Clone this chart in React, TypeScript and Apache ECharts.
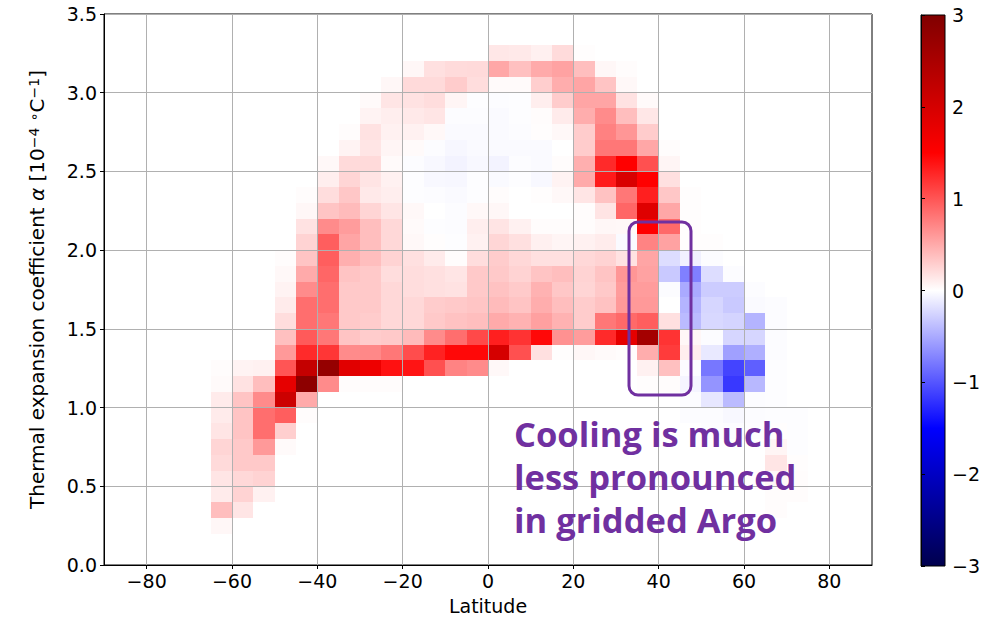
import React, { useEffect, useRef } from "react";
import * as echarts from "echarts";

// Bin sizes of the latitude / alpha histogram grid
const LAT_BIN = 5;
const ALPHA_BIN = 0.1;

// Centres of the 5° latitude bands that hold data
const latCenters = [
  -62.5, -57.5, -52.5, -47.5, -42.5, -37.5, -32.5, -27.5, -22.5, -17.5, -12.5, -7.5, -2.5,
  2.5, 7.5, 12.5, 17.5, 22.5, 27.5, 32.5, 37.5, 42.5, 47.5, 52.5, 57.5, 62.5, 67.5, 72.5,
];

// Index of the lowest alpha bin (alpha = index * 0.1) filled in each band
const firstAlphaBin = [2, 3, 4, 7, 9, 11, 11, 11, 11, 12, 12, 12, 12, 12, 13, 13, 13, 13, 13, 13, 11, 11, 9, 8, 8, 8, 3, 4];

// Temperature change per band, from the lowest filled alpha bin upwards
const lat65S = [0.05, 0.38, 0.12, 0.15, 0.22, 0.25, 0.15, 0.12, 0.12, 0.03, 0.02];
const lat60S = [0.15, 0.26, 0.23, 0.32, 0.32, 0.35, 0.35, 0.35, 0.17, 0.07];
const lat55S = [0.08, 0.26, 0.32, 0.6, 0.85, 0.85, 0.68, 0.38, 0.08];
const lat50S = [0.03, 0.28, 0.95, 2.1, 1.8, 1.0, 0.6, 0.37, 0.2, 0.12, 0.07, 0.04, 0.02];
const lat45S = [0.02, 0.5, 2.85, 2.2, 1.25, 0.97, 0.85, 0.85, 0.68, 0.5, 0.35, 0.26, 0.17, 0.05, 0.02];
const lat40S = [0.68, 2.75, 1.18, 0.8, 0.8, 0.85, 0.85, 0.9, 0.95, 0.95, 0.68, 0.35, 0.2, 0.1, 0.04];
const lat35S = [0.02, 1.85, 0.68, 0.35, 0.32, 0.32, 0.32, 0.35, 0.47, 0.53, 0.58, 0.4, 0.33, 0.25, 0.22, 0.07, 0.02];
const lat30S = [0.02, 1.7, 0.7, 0.3, 0.3, 0.32, 0.32, 0.32, 0.38, 0.38, 0.38, 0.25, 0.13, 0.16, 0.22, 0.15, 0.17, 0.07, 0.03];
const lat25S = [0.02, 1.4, 0.8, 0.32, 0.23, 0.23, 0.23, 0.2, 0.26, 0.23, 0.23, 0.15, 0.1, 0.08, 0.03, 0.06, 0.08, 0.1, 0.15, 0.05];
const lat20S = [1.38, 1.05, 0.4, 0.23, 0.23, 0.2, 0.2, 0.18, 0.04, 0.03, 0.04, -0.01, -0.01, -0.02, 0.03, 0.08, 0.13, 0.17, 0.22, 0.05];
const lat15S = [1.03, 1.3, 0.68, 0.32, 0.3, 0.18, 0.18, 0.12, 0.01, -0.01, 0.0, -0.02, -0.04, -0.04, -0.02, 0.04, 0.15, 0.2, 0.22, 0.18];
const lat10S = [0.73, 1.45, 0.85, 0.36, 0.32, 0.17, 0.15, 0.02, -0.01, -0.02, -0.02, -0.03, -0.05, -0.07, -0.05, -0.03, -0.02, 0.06, 0.3, 0.21];
const lat5S = [0.68, 1.45, 1.07, 0.38, 0.34, 0.32, 0.32, 0.2, 0.08, 0.1, 0.04, -0.01, -0.01, -0.04, -0.03, -0.03, -0.02, -0.01, 0.2, 0.22];
const lat0N = [0.04, 2.0, 1.32, 0.5, 0.4, 0.36, 0.32, 0.3, 0.24, 0.16, 0.05, 0.02, -0.03, -0.07, -0.03, -0.03, -0.03, -0.02, 0.03, 0.52, 0.14];
const lat5N = [1.03, 1.2, 0.45, 0.35, 0.31, 0.26, 0.23, 0.18, 0.08, 0.0, 0.0, -0.01, -0.02, -0.03, -0.02, -0.01, -0.01, 0.03, 0.37, 0.13];
const lat10N = [0.18, 1.45, 0.56, 0.48, 0.45, 0.35, 0.18, 0.09, 0.02, 0.0, 0.01, -0.04, -0.03, -0.03, 0.01, 0.02, 0.1, 0.29, 0.5, 0.09];
const lat15N = [0.01, 0.65, 0.45, 0.38, 0.33, 0.38, 0.18, 0.06, 0.02, 0.0, 0.04, 0.07, 0.02, 0.0, 0.04, 0.12, 0.3, 0.48, 0.55, 0.21];
const lat20N = [0.05, 0.58, 0.3, 0.3, 0.25, 0.26, 0.23, 0.08, 0.02, 0.02, 0.15, 0.5, 0.47, 0.3, 0.3, 0.48, 0.53, 0.53, 0.38, 0.01];
const lat25N = [0.03, 1.25, 0.8, 0.36, 0.32, 0.35, 0.26, 0.11, 0.05, 0.16, 0.36, 1.35, 1.25, 0.8, 0.74, 0.68, 0.53, 0.35, 0.05];
const lat30N = [0.02, 1.8, 0.88, 0.6, 0.58, 0.62, 0.17, -0.03, 0.04, 0.9, 0.8, 1.95, 1.5, 0.8, 0.62, 0.38, 0.17, 0.04, 0.02];
const lat35N = [0.01, 0.08, 0.48, 2.58, 0.95, 0.6, 0.58, 0.55, 0.53, 0.73, 1.5, 1.88, 1.32, 1.5, 1.03, 0.52, 0.3, 0.14, 0.03];
const lat40N = [0.02, 0.37, 1.15, 1.2, 0.18, 0.0, -0.02, -0.32, -0.2, 0.55, 0.88, 0.52, 0.33, 0.18, 0.06, 0.02];
const lat45N = [-0.02, -0.02, -0.06, -0.02, 0.1, 0.05, -0.4, -0.44, -0.5, -0.75, -0.08, 0.01, 0.01, 0.01, 0.01];
const lat50N = [-0.01, -0.02, -0.14, -0.63, -0.8, -0.13, -0.02, -0.23, -0.24, -0.3, -0.2, -0.02, 0.01];
const lat55N = [-0.02, -0.04, -0.4, -1.17, -1.1, -0.56, -0.24, -0.25, -0.32, -0.3, -0.02];
const lat60N = [-0.01, -0.02, -0.02, -0.42, -0.94, -0.47, -0.24, -0.44, -0.03, -0.02];
const lat65N = [0.02, 0.02, 0.04, 0.15, 0.06, 0.01, -0.01, -0.01, -0.01, -0.01, -0.02, -0.02, -0.02, -0.02];
const lat70N = [0.02, 0.02, 0.01, -0.01, -0.01, -0.01];

const bands = [
  lat65S, lat60S, lat55S, lat50S, lat45S, lat40S, lat35S, lat30S, lat25S, lat20S, lat15S, lat10S, lat5S,
  lat0N, lat5N, lat10N, lat15N, lat20N, lat25N, lat30N, lat35N, lat40N, lat45N, lat50N, lat55N, lat60N, lat65N, lat70N,
];

// Axis ticks
const latTicks = [-80, -60, -40, -20, 0, 20, 40, 60, 80];
const colorbarTicks = [-3, -2, -1, 0, 1, 2, 3];

// Diverging "seismic" colour scale, -3 .. 3
const seismic = ["#00004d", "#0000ff", "#ffffff", "#ff0000", "#800000"];

const cells: number[][] = [];
bands.forEach((vals, i) => {
  vals.forEach((v, j) => {
    const alphaCenter = +((firstAlphaBin[i] + j + 0.5) * ALPHA_BIN).toFixed(3);
    cells.push([latCenters[i], alphaCenter, v]);
  });
});

const minus = (v: number | string) => String(v).replace("-", "\u2212");
const FONT = "DejaVu Sans";
const FS = 19;
const NAME_FS = 20;
const PURPLE = "#7030a0";

export default function App() {
  const ref = useRef<HTMLDivElement>(null);

  useEffect(() => {
    if (!ref.current) return;
    const chart = echarts.init(ref.current, null, { renderer: "svg" });

    const renderItem = (_params: any, api: any) => {
      const lat = api.value(0);
      const a = api.value(1);
      const p0 = api.coord([lat - LAT_BIN / 2, a - ALPHA_BIN / 2]);
      const p1 = api.coord([lat + LAT_BIN / 2, a + ALPHA_BIN / 2]);
      const x0 = Math.round(p0[0]);
      const x1 = Math.round(p1[0]);
      const y0 = Math.round(p1[1]);
      const y1 = Math.round(p0[1]);
      return {
        type: "rect",
        shape: { x: x0, y: y0, width: x1 - x0, height: y1 - y0 },
        style: { fill: api.visual("color") },
      };
    };

    const tickLabel = { fontFamily: FONT, fontSize: FS, color: "#000" };
    const annot = { fill: PURPLE, fontFamily: "Open Sans", fontWeight: 700, fontSize: 34.5, verticalAlign: "middle" };

    chart.setOption({
      animation: false,
      backgroundColor: "#fff",
      textStyle: { fontFamily: FONT },
      grid: [
        { left: 104, top: 14, width: 768, height: 553, show: true, borderColor: "#000", borderWidth: 1, backgroundColor: "transparent" },
        { left: 921, top: 15, width: 24, height: 551 },
      ],
      xAxis: [
        {
          type: "value",
          gridIndex: 0,
          min: -90,
          max: 90,
          z: 10,
          name: "Latitude",
          nameLocation: "middle",
          nameGap: 31,
          nameTextStyle: { fontFamily: FONT, fontSize: FS, color: "#000" },
          axisLine: { show: true, onZero: false, lineStyle: { color: "#000", width: 1 } },
          axisTick: { show: true, customValues: latTicks, length: 4, lineStyle: { color: "#000" } },
          axisLabel: { ...tickLabel, customValues: latTicks, margin: 6, formatter: (v: number) => minus(v) },
          splitLine: { show: true, lineStyle: { color: "#b0b0b0", width: 1 } },
        },
        { type: "value", gridIndex: 1, min: 0, max: 1, show: false },
      ],
      yAxis: [
        {
          type: "value",
          gridIndex: 0,
          min: 0,
          max: 3.5,
          interval: 0.5,
          z: 10,
          name: "{t|Thermal expansion coefficient }{i|α}{t| [10}{s|\u22124}{t| }{s|\u2218}{t|C}{s|\u22121}{t|]}",
          nameLocation: "middle",
          nameGap: 57,
          nameRotate: 90,
          nameTextStyle: {
            fontFamily: FONT,
            fontSize: NAME_FS,
            color: "#000",
            rich: {
              t: { fontFamily: FONT, fontSize: NAME_FS, color: "#000" },
              i: { fontFamily: FONT, fontSize: NAME_FS, fontStyle: "italic", color: "#000" },
              s: { fontFamily: FONT, fontSize: 14, color: "#000", verticalAlign: "top" },
            },
          },
          axisLine: { show: true, onZero: false, lineStyle: { color: "#000", width: 1 } },
          axisTick: { show: true, length: 4, lineStyle: { color: "#000" } },
          axisLabel: { ...tickLabel, margin: 7, formatter: (v: number) => v.toFixed(1) },
          splitLine: { show: true, lineStyle: { color: "#b0b0b0", width: 1 } },
        },
        {
          type: "value",
          gridIndex: 1,
          position: "right",
          min: colorbarTicks[0],
          max: colorbarTicks[colorbarTicks.length - 1],
          interval: 1,
          z: 10,
          axisLine: { show: true, lineStyle: { color: "#000", width: 1 } },
          axisTick: { show: true, length: 4, lineStyle: { color: "#000" } },
          axisLabel: { ...tickLabel, margin: 7, formatter: (v: number) => minus(v) },
          splitLine: { show: false },
        },
      ],
      visualMap: {
        type: "continuous",
        show: false,
        min: -3,
        max: 3,
        dimension: 2,
        seriesIndex: 0,
        inRange: { color: seismic },
      },
      series: [
        {
          type: "custom",
          xAxisIndex: 0,
          yAxisIndex: 0,
          z: 2,
          clip: true,
          encode: { x: 0, y: 1 },
          data: cells,
          renderItem,
        },
      ],
      graphic: [
        {
          type: "rect",
          z: 1,
          shape: { x: 921, y: 15, width: 24, height: 551 },
          style: {
            fill: new echarts.graphic.LinearGradient(0, 0, 0, 1, [
              { offset: 0, color: seismic[4] },
              { offset: 0.25, color: seismic[3] },
              { offset: 0.5, color: seismic[2] },
              { offset: 0.75, color: seismic[1] },
              { offset: 1, color: seismic[0] },
            ]),
            stroke: "#000",
            lineWidth: 1,
          },
        },
        {
          type: "rect",
          z: 20,
          shape: { x: 629, y: 222, width: 62, height: 173, r: 9 },
          style: { fill: "none", stroke: PURPLE, lineWidth: 3 },
        },
        { type: "text", z: 20, x: 514, y: 433, style: { ...annot, text: "Cooling is much" } },
        { type: "text", z: 20, x: 514, y: 476, style: { ...annot, text: "less pronounced" } },
        { type: "text", z: 20, x: 514, y: 519, style: { ...annot, text: "in gridded Argo" } },
      ],
    });

    return () => chart.dispose();
  }, []);

  return (
    <div
      ref={ref}
      style={{ position: "absolute", left: 0, top: 0, width: 1004, height: 620, background: "#fff" }}
    />
  );
}
